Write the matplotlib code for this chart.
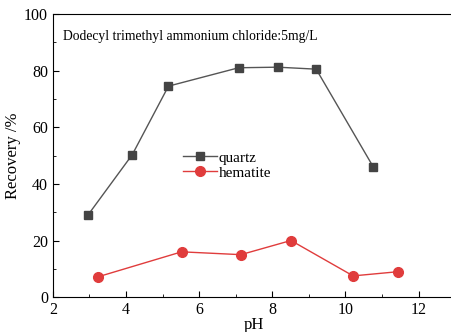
import matplotlib.pyplot as plt
from matplotlib.ticker import MultipleLocator

plt.rcParams['font.family'] = ['Liberation Serif', 'DejaVu Serif']

# data
ph_quartz = [2.96, 4.17, 5.16, 7.08, 8.15, 9.2, 10.76]
rec_quartz = [29, 50.3, 74.5, 81, 81.2, 80.5, 46]
ph_hematite = [3.24, 5.52, 7.14, 8.51, 10.21, 11.45]
rec_hematite = [7.2, 16, 15, 20, 7.5, 9]

fig = plt.figure(figsize=(4.52, 3.32), dpi=100)
ax = fig.add_axes([0.117, 0.105, 0.89, 0.853])

ax.plot(ph_quartz, rec_quartz, color='#555555', marker='s', markersize=6,
        linewidth=1, markerfacecolor='#444444', markeredgecolor='#444444', label='quartz')
ax.plot(ph_hematite, rec_hematite, color='#e03c3c', marker='o', markersize=7,
        linewidth=1, markerfacecolor='#e03c3c', markeredgecolor='#e03c3c', label='hematite')

ax.set_xlim(2, 13)
ax.set_ylim(0, 100)
ax.set_xticks([2, 4, 6, 8, 10, 12])
ax.set_yticks([0, 20, 40, 60, 80, 100])
ax.xaxis.set_minor_locator(MultipleLocator(1))
ax.yaxis.set_minor_locator(MultipleLocator(10))
ax.tick_params(which='both', direction='in', labelsize=11.5)
ax.tick_params(which='major', length=4)
ax.tick_params(which='minor', length=2)

ax.set_xlabel('pH', fontsize=12, labelpad=-1)
ax.set_ylabel('Recovery /%', fontsize=12, labelpad=2)

ax.text(0.025, 0.945, 'Dodecyl trimethyl ammonium chloride:5mg/L',
        transform=ax.transAxes, fontsize=9.8, va='top')

ax.legend(loc='upper left', bbox_to_anchor=(0.29, 0.565), frameon=False,
          fontsize=11, handlelength=2.2, handletextpad=0.1, labelspacing=0.1)

fig.savefig('out.png', dpi=100)
